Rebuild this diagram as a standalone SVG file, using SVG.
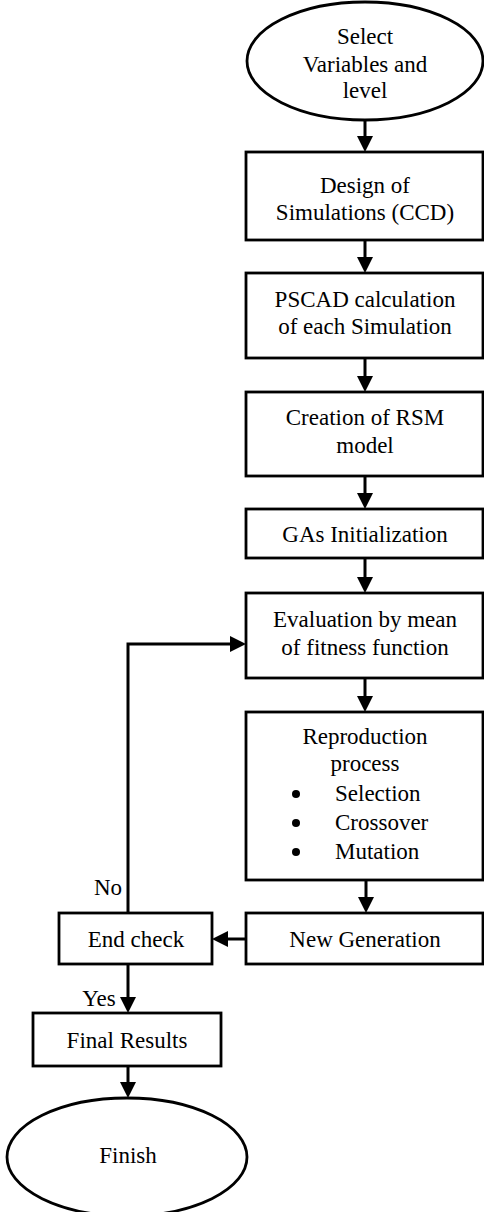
<svg xmlns="http://www.w3.org/2000/svg" width="484" height="1212" viewBox="0 0 484 1212">
<style>
.box{fill:#fff;stroke:#000;stroke-width:2.8}
.ln{fill:none;stroke:#000;stroke-width:3}
text{font-family:"Liberation Serif","Times New Roman",serif;font-size:23px;fill:#000;text-anchor:middle}
.l{text-anchor:start}
</style>
<defs>
<marker id="ah" viewBox="0 0 16 16" refX="6" refY="8" markerWidth="16" markerHeight="16" markerUnits="userSpaceOnUse" orient="auto">
<path d="M0,0 L16,8 L0,16 z" fill="#000"/>
</marker>
</defs>
<rect width="484" height="1212" fill="#fff"/>
<g id="connectors">
<path class="ln" d="M365,120 V142" marker-end="url(#ah)"/>
<path class="ln" d="M365,240 V263" marker-end="url(#ah)"/>
<path class="ln" d="M365,358 V382" marker-end="url(#ah)"/>
<path class="ln" d="M365,476 V499" marker-end="url(#ah)"/>
<path class="ln" d="M365,558 V583" marker-end="url(#ah)"/>
<path class="ln" d="M365,678 V702" marker-end="url(#ah)"/>
<path class="ln" d="M366,880 V903" marker-end="url(#ah)"/>
<path class="ln" d="M246,939 H222" marker-end="url(#ah)"/>
<path class="ln" d="M128,964 V1003" marker-end="url(#ah)"/>
<path class="ln" d="M128,1066 V1088" marker-end="url(#ah)"/>
<path class="ln" d="M128,913 V644 H236" marker-end="url(#ah)"/>
<text x="108" y="895">No</text>
<text x="99" y="1006">Yes</text>
</g>
<g id="start">
<ellipse class="box" cx="365" cy="61" rx="118" ry="59"/>
<text x="365" y="44">Select</text>
<text x="365" y="72">Variables and</text>
<text x="365" y="98">level</text>
</g>
<g id="design">
<rect class="box" x="246" y="152" width="237" height="88"/>
<text x="365" y="193">Design of</text>
<text x="365" y="220">Simulations (CCD)</text>
</g>
<g id="pscad">
<rect class="box" x="246" y="273" width="237" height="85"/>
<text x="365" y="307">PSCAD calculation</text>
<text x="365" y="334">of each Simulation</text>
</g>
<g id="rsm">
<rect class="box" x="246" y="392" width="237" height="84"/>
<text x="365" y="425">Creation of RSM</text>
<text x="365" y="453">model</text>
</g>
<g id="gainit">
<rect class="box" x="246" y="509" width="237" height="49"/>
<text x="365" y="542">GAs Initialization</text>
</g>
<g id="evaluation">
<rect class="box" x="246" y="593" width="237" height="85"/>
<text x="365" y="627">Evaluation by mean</text>
<text x="365" y="655">of fitness function</text>
</g>
<g id="reproduction">
<rect class="box" x="246" y="712" width="237" height="168"/>
<text x="365" y="744">Reproduction</text>
<text x="365" y="771">process</text>
<circle cx="296" cy="794" r="4"/>
<text class="l" x="335" y="801">Selection</text>
<circle cx="296" cy="823" r="4"/>
<text class="l" x="335" y="830">Crossover</text>
<circle cx="296" cy="852" r="4"/>
<text class="l" x="335" y="859">Mutation</text>
</g>
<g id="newgen">
<rect class="box" x="246" y="913" width="237" height="51"/>
<text x="365" y="947">New Generation</text>
</g>
<g id="endcheck">
<rect class="box" x="59" y="913" width="153" height="51"/>
<text x="136" y="947">End check</text>
</g>
<g id="final">
<rect class="box" x="33" y="1013" width="188" height="53"/>
<text x="127" y="1048">Final Results</text>
</g>
<g id="finish">
<ellipse class="box" cx="127" cy="1157" rx="120" ry="59"/>
<text x="128" y="1163">Finish</text>
</g>
</svg>
